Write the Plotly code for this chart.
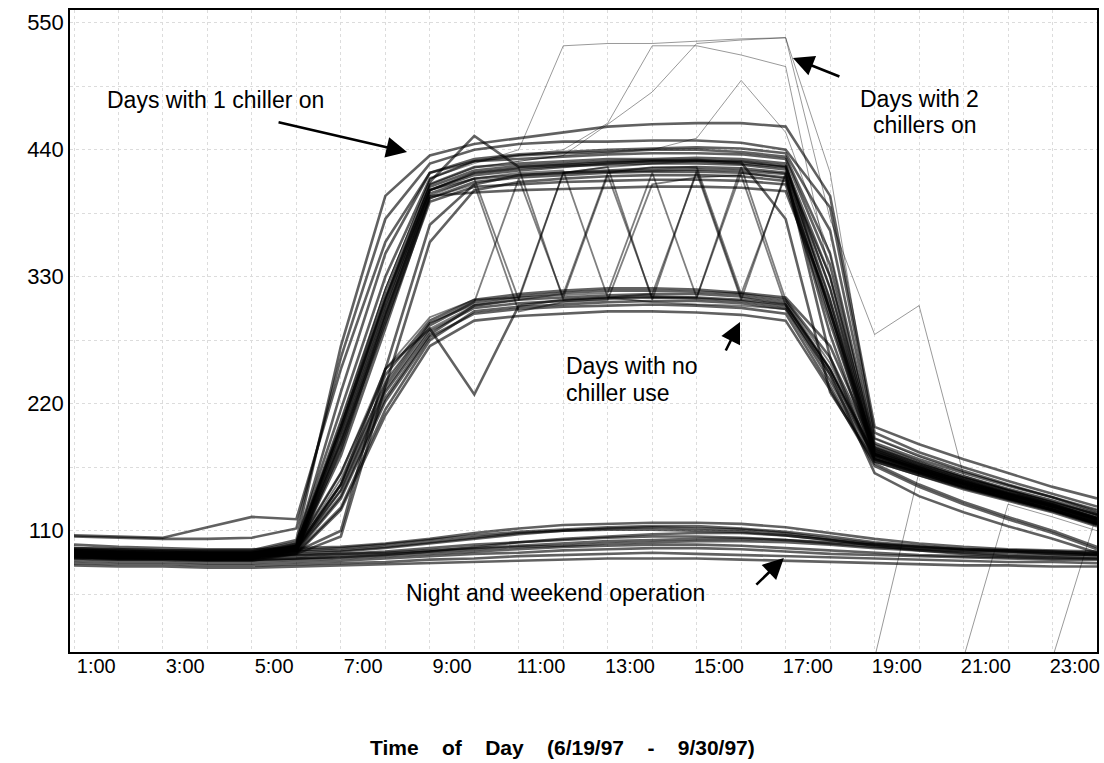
import plotly.graph_objects as go

# ---------------- data (hourly load) ----------------
HOURS = [1, 2, 3, 4, 5, 6, 7, 8, 9, 10, 11, 12, 13, 14, 15, 16, 17, 18, 19, 20, 21, 22, 23, 24]
LABEL_HOURS = [1, 3, 5, 7, 9, 11, 13, 15, 17, 19, 21, 23]
TIME_LABELS = ["1:00", "3:00", "5:00", "7:00", "9:00", "11:00", "13:00", "15:00", "17:00", "19:00", "21:00", "23:00"]
Y_TICKS = [110, 220, 330, 440, 550]

# Night and weekend operation
WE1 = [90, 89, 88, 88, 87, 88, 90, 92, 95, 98, 100, 102, 104, 105, 105, 104, 102, 99, 96, 94, 92, 91, 90, 89]
WE2 = [86, 85, 85, 84, 84, 85, 86, 88, 90, 92, 94, 96, 97, 98, 98, 97, 95, 93, 91, 89, 88, 87, 86, 86]
WE3 = [95, 94, 93, 92, 92, 93, 95, 98, 102, 106, 109, 111, 113, 114, 114, 112, 109, 105, 100, 97, 94, 93, 92, 91]
WE4 = [82, 81, 81, 80, 80, 81, 82, 83, 85, 86, 88, 89, 90, 91, 90, 89, 88, 87, 86, 85, 84, 83, 83, 82]
WE5 = [92, 91, 90, 90, 89, 90, 92, 95, 99, 103, 107, 110, 112, 113, 112, 111, 108, 103, 99, 96, 94, 93, 92, 90]
WE6 = [88, 87, 86, 86, 85, 86, 88, 90, 92, 94, 96, 97, 99, 100, 101, 101, 100, 98, 95, 93, 91, 89, 88, 88]
WE7 = [98, 96, 95, 94, 94, 95, 96, 99, 103, 108, 112, 115, 116, 117, 117, 116, 113, 108, 103, 99, 96, 94, 93, 92]
WE8 = [84, 83, 83, 82, 82, 83, 84, 86, 88, 90, 91, 93, 94, 95, 95, 94, 92, 90, 89, 88, 87, 86, 85, 85]
WE9 = [90, 90, 89, 89, 88, 89, 90, 91, 93, 95, 97, 99, 101, 102, 103, 103, 102, 100, 98, 96, 94, 92, 90, 89]
WE10 = [87, 86, 86, 85, 85, 86, 87, 89, 92, 96, 100, 103, 105, 107, 108, 108, 106, 102, 97, 93, 90, 88, 87, 86]
WE11 = [80, 79, 79, 78, 78, 79, 80, 81, 82, 83, 84, 85, 86, 86, 86, 85, 84, 83, 82, 81, 80, 80, 79, 79]
WE12 = [93, 92, 92, 91, 91, 92, 93, 96, 100, 104, 108, 110, 111, 111, 110, 109, 106, 102, 98, 95, 93, 92, 91, 90]

# Days with 1 chiller on
C1_1 = [90, 89, 88, 88, 88, 96, 190, 300, 405, 418, 422, 425, 428, 430, 430, 428, 425, 320, 178, 165, 152, 142, 132, 120]
C1_2 = [92, 91, 90, 90, 90, 98, 200, 310, 410, 425, 428, 430, 432, 432, 433, 432, 428, 300, 182, 168, 156, 145, 134, 123]
C1_3 = [88, 87, 86, 86, 87, 94, 175, 285, 398, 412, 416, 418, 420, 421, 421, 420, 416, 280, 172, 160, 148, 138, 128, 116]
C1_4 = [94, 93, 92, 92, 92, 100, 215, 330, 415, 430, 435, 437, 438, 440, 440, 438, 434, 350, 186, 172, 160, 149, 139, 128]
C1_5 = [89, 88, 87, 87, 87, 93, 180, 295, 402, 415, 418, 420, 422, 424, 425, 424, 420, 260, 170, 158, 147, 137, 127, 115]
C1_6 = [105, 104, 103, 103, 104, 112, 260, 380, 428, 440, 445, 447, 447, 448, 448, 446, 440, 390, 195, 178, 165, 153, 142, 131]
C1_7 = [91, 90, 89, 89, 89, 97, 205, 318, 412, 452, 425, 427, 429, 430, 431, 430, 426, 330, 180, 166, 154, 143, 133, 121]
C1_8 = [93, 92, 91, 91, 91, 99, 230, 350, 420, 432, 436, 438, 440, 441, 442, 441, 437, 370, 190, 175, 162, 150, 139, 126]
C1_9 = [87, 86, 86, 85, 86, 90, 105, 235, 360, 405, 412, 415, 417, 418, 418, 417, 413, 300, 175, 162, 150, 139, 128, 117]
C1_10 = [106, 105, 104, 113, 122, 120, 250, 360, 420, 430, 432, 434, 436, 437, 437, 436, 432, 340, 184, 170, 157, 146, 136, 124]
C1_11 = [90, 90, 89, 88, 88, 95, 185, 290, 395, 408, 410, 412, 413, 414, 414, 413, 410, 290, 176, 163, 151, 141, 131, 119]
C1_12 = [95, 94, 93, 93, 93, 102, 270, 400, 435, 445, 450, 455, 460, 462, 463, 463, 460, 400, 200, 185, 172, 160, 148, 138]
C1_13 = [91, 90, 90, 89, 89, 96, 195, 305, 405, 420, 424, 426, 427, 428, 428, 427, 423, 310, 178, 164, 153, 142, 132, 121]
C1_14 = [89, 88, 87, 87, 87, 92, 110, 250, 375, 410, 418, 420, 421, 422, 423, 422, 419, 295, 173, 161, 149, 138, 128, 116]
C1_15 = [92, 91, 90, 90, 90, 97, 200, 312, 408, 422, 426, 428, 430, 431, 431, 429, 380, 230, 170, 158, 146, 136, 126, 114]
C1_16 = [90, 89, 88, 88, 88, 95, 188, 298, 400, 403, 405, 406, 407, 408, 408, 407, 404, 305, 176, 164, 152, 141, 131, 120]

# Days with no chiller use
NC1 = [89, 88, 88, 87, 87, 93, 140, 225, 280, 305, 310, 312, 314, 315, 315, 313, 308, 250, 176, 163, 151, 140, 130, 118]
NC2 = [91, 90, 89, 89, 89, 95, 150, 235, 288, 308, 313, 316, 318, 318, 317, 315, 310, 260, 180, 166, 154, 143, 133, 121]
NC3 = [87, 86, 86, 85, 85, 91, 130, 215, 275, 300, 304, 306, 308, 309, 309, 307, 302, 240, 172, 160, 148, 138, 128, 116]
NC4 = [93, 92, 91, 91, 91, 97, 160, 245, 292, 310, 315, 318, 320, 320, 319, 316, 312, 270, 182, 168, 156, 145, 135, 124]
NC5 = [88, 87, 87, 86, 86, 92, 138, 222, 278, 298, 302, 304, 305, 306, 305, 303, 298, 235, 168, 150, 135, 122, 110, 96]
NC6 = [90, 89, 89, 88, 88, 94, 145, 230, 283, 303, 307, 309, 311, 312, 311, 309, 304, 245, 160, 140, 126, 114, 103, 91]
NC7 = [90, 89, 88, 88, 88, 94, 150, 250, 285, 228, 305, 310, 312, 313, 312, 310, 306, 248, 174, 161, 150, 139, 129, 117]
NC8 = [86, 85, 85, 84, 84, 90, 128, 210, 270, 292, 296, 298, 300, 300, 299, 297, 292, 232, 166, 148, 133, 120, 108, 94]

# Days switching between no chiller and 1 chiller
MX1 = [90, 89, 88, 88, 88, 95, 150, 240, 290, 308, 415, 312, 418, 312, 312, 420, 415, 300, 176, 163, 151, 141, 131, 119]
MX2 = [91, 90, 89, 89, 89, 96, 160, 250, 295, 310, 312, 420, 425, 310, 422, 312, 306, 250, 175, 162, 150, 139, 129, 118]
MX3 = [92, 91, 90, 90, 90, 97, 195, 305, 405, 415, 310, 315, 420, 425, 425, 315, 418, 310, 177, 164, 152, 141, 131, 120]
MX4 = [89, 88, 88, 87, 87, 94, 185, 295, 400, 415, 420, 422, 312, 308, 306, 305, 302, 245, 172, 160, 148, 138, 128, 116]
MX5 = [90, 89, 89, 88, 88, 94, 145, 232, 285, 305, 310, 420, 425, 428, 430, 430, 425, 320, 178, 165, 153, 142, 132, 120]
MX6 = [91, 90, 90, 89, 89, 95, 155, 238, 290, 306, 312, 314, 316, 420, 312, 425, 310, 255, 176, 163, 151, 140, 130, 118]
MX7 = [88, 87, 87, 86, 86, 93, 180, 290, 398, 410, 300, 308, 310, 410, 416, 418, 305, 250, 172, 160, 148, 138, 128, 116]
MX8 = [92, 91, 90, 90, 90, 96, 200, 310, 405, 420, 424, 310, 312, 315, 420, 310, 420, 330, 180, 166, 154, 143, 133, 121]

# Days with 2 chillers on
TC1 = [92, 91, 90, 90, 90, 97, 200, 320, 415, 428, 440, 530, 532, 532, 534, 536, 537, 380, 280, 305, 158, 145, 135, 125]
TC2 = [93, 92, 91, 91, 91, 98, 205, 320, 415, 430, 435, 440, 463, 530, 530, 522, 512, 330, 185, 170, 158, 147, 137, 126]
TC3 = [91, 90, 89, 89, 89, 96, 198, 312, 410, 425, 430, 435, 462, 490, 532, 535, 537, 420, 190, 174, 161, 150, 139, 128]
TC4 = [90, 89, 89, 88, 88, 95, 195, 310, 410, 424, 430, 435, 438, 440, 450, 500, 455, 350, 182, 168, 156, 145, 135, 124]

# Partial-record days (no reading before the last hours)
PD1 = [0, 0, 0, 0, 0, 0, 0, 0, 0, 0, 0, 0, 0, 0, 0, 0, 0, 0, 0, 161, 150, 140, 130, 119]
PD2 = [0, 0, 0, 0, 0, 0, 0, 0, 0, 0, 0, 0, 0, 0, 0, 0, 0, 0, 0, 0, 0, 133, 122, 110]
PD3 = [0, 0, 0, 0, 0, 0, 0, 0, 0, 0, 0, 0, 0, 0, 0, 0, 0, 0, 0, 0, 0, 0, 0, 125]

DENSE_DAYS = [WE1, WE2, WE3, WE4, WE5, WE6, WE7, WE8, WE9, WE10, WE11, WE12,
              C1_1, C1_2, C1_3, C1_4, C1_5, C1_6, C1_7, C1_8, C1_9, C1_10, C1_11, C1_12,
              C1_13, C1_14, C1_15, C1_16,
              NC1, NC2, NC3, NC4, NC5, NC6, NC7, NC8]
SWITCH_DAYS = [MX1, MX2, MX3, MX4, MX5, MX6, MX7, MX8]
THIN_DAYS = [TC1, TC2, TC3, TC4, PD1, PD2, PD3]

# ---------------- figure ----------------
fig = go.Figure()
for day in DENSE_DAYS:
    fig.add_trace(go.Scatter(x=HOURS, y=day, mode="lines",
                             line=dict(color="rgba(0,0,0,0.62)", width=2.6),
                             hoverinfo="skip", showlegend=False))
for day in SWITCH_DAYS:
    fig.add_trace(go.Scatter(x=HOURS, y=day, mode="lines",
                             line=dict(color="rgba(0,0,0,0.5)", width=1.8),
                             hoverinfo="skip", showlegend=False))
for day in THIN_DAYS:
    fig.add_trace(go.Scatter(x=HOURS, y=day, mode="lines",
                             line=dict(color="rgba(0,0,0,0.4)", width=1),
                             hoverinfo="skip", showlegend=False))

TEXT_FONT = dict(family="Liberation Sans, Arial, sans-serif", size=23, color="black")

annotations = [
    dict(x=0.034, y=0.8598, xref="paper", yref="paper", text="Days with 1 chiller on",
         showarrow=False, xanchor="left", yanchor="middle", font=TEXT_FONT),
    dict(x=0.827, y=0.862, xref="paper", yref="paper", text="Days with 2",
         showarrow=False, xanchor="center", yanchor="middle", font=TEXT_FONT),
    dict(x=0.833, y=0.821, xref="paper", yref="paper", text="chillers on",
         showarrow=False, xanchor="center", yanchor="middle", font=TEXT_FONT),
    dict(x=0.4806, y=0.4455, xref="paper", yref="paper", text="Days with no",
         showarrow=False, xanchor="left", yanchor="middle", font=TEXT_FONT),
    dict(x=0.4806, y=0.4034, xref="paper", yref="paper", text="chiller use",
         showarrow=False, xanchor="left", yanchor="middle", font=TEXT_FONT),
    dict(x=0.3252, y=0.0919, xref="paper", yref="paper", text="Night and weekend operation",
         showarrow=False, xanchor="left", yanchor="middle", font=TEXT_FONT),
]
arrows = [
    (0.3282, 0.7788, -130, -30),
    (0.7039, 0.9252, 48, 19),
    (0.6524, 0.5140, -15, 30),
    (0.6951, 0.1464, -29, 28),
]
for hx, hy, axp, ayp in arrows:
    annotations.append(dict(x=hx, y=hy, xref="paper", yref="paper", text="",
                            showarrow=True, ax=axp, ay=ayp, axref="pixel", ayref="pixel",
                            arrowhead=2, arrowsize=1.6, arrowwidth=2.6, arrowcolor="black"))

GAP = "\u00a0\u00a0\u00a0 "
annotations.append(dict(x=0.48, y=-0.1495, xref="paper", yref="paper",
                        text=GAP.join(["Time", "of", "Day", "(6/19/97", "-", "9/30/97)"]),
                        showarrow=False, xanchor="center", yanchor="middle",
                        font=dict(family="Liberation Sans, Arial, sans-serif",
                                  size=21, color="black", weight="bold")))

fig.update_layout(
    width=1104, height=763,
    margin=dict(l=70, r=4, t=10, b=111),
    paper_bgcolor="white", plot_bgcolor="white",
    annotations=annotations,
    xaxis=dict(
        range=[0.91, 24.0],
        tickmode="array",
        tickvals=[h + 0.5 for h in LABEL_HOURS],
        ticktext=TIME_LABELS,
        ticks="",
        ticklabelstandoff=-5,
        showgrid=False,
        zeroline=False,
        showline=True, mirror=True, linecolor="black", linewidth=1.5,
        tickfont=dict(family="Liberation Sans, Arial, sans-serif", size=20, color="black"),
        minor=dict(tickmode="linear", tick0=1, dtick=1, showgrid=True,
                   gridcolor="#dcdcdc", griddash="dot", gridwidth=1, ticks=""),
    ),
    yaxis=dict(
        range=[5, 561],
        tickmode="array",
        tickvals=Y_TICKS,
        ticks="",
        showgrid=True, gridcolor="#dcdcdc", griddash="dot", gridwidth=1,
        zeroline=False,
        showline=True, mirror=True, linecolor="black", linewidth=1.5,
        tickfont=dict(family="Liberation Sans, Arial, sans-serif", size=22, color="black"),
        minor=dict(tickmode="linear", tick0=0, dtick=55, showgrid=True,
                   gridcolor="#dcdcdc", griddash="dot", gridwidth=1, ticks=""),
    ),
)

# remove the default page margin so the 1104x763 figure fills the window exactly
fig.write_html("out.html",
               config={"displayModeBar": False},
               post_script="document.body.style.margin='0';"
                           "document.body.style.overflow='hidden';"
                           "document.documentElement.style.overflow='hidden';")
